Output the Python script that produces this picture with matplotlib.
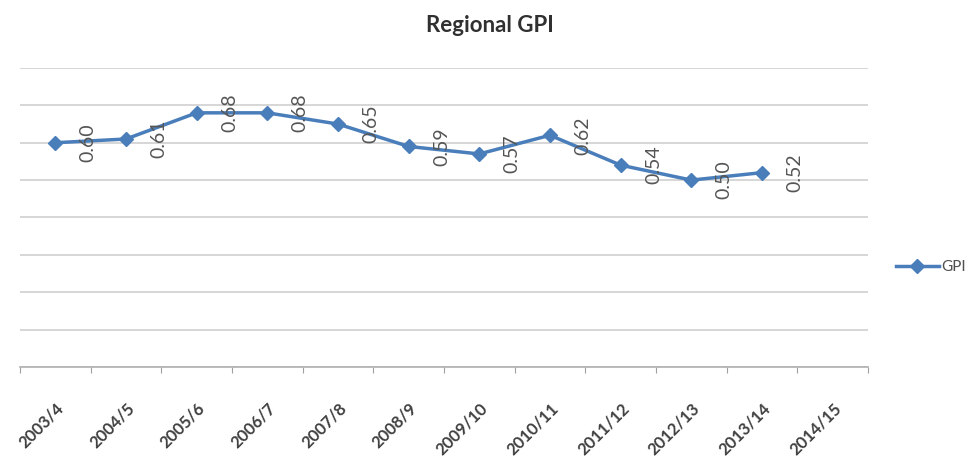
import matplotlib
matplotlib.use("Agg")
import matplotlib.pyplot as plt
import numpy as np

# Kategorien und Werte
jahre = ['2003/4', '2004/5', '2005/6', '2006/7', '2007/8', '2008/9',
         '2009/10', '2010/11', '2011/12', '2012/13', '2013/14', '2014/15']
gpi = [0.60, 0.61, 0.68, 0.68, 0.65, 0.59, 0.57, 0.62, 0.54, 0.50, 0.52]
y_ticks = [0.0, 0.1, 0.2, 0.3, 0.4, 0.5, 0.6, 0.7, 0.8]

farbe = '#4a7ebb'
plt.rcParams['font.family'] = ['Lato', 'DejaVu Sans']

fig = plt.figure(figsize=(9.8, 4.65), dpi=100)
ax = fig.add_axes([0.0204, 0.2108, 0.8653, 0.643])

x = np.arange(len(gpi))
ax.plot(x, gpi, color=farbe, linewidth=2.5, marker='D', markersize=7,
        label='GPI', zorder=3)

# Datenbeschriftungen, um 90 Grad gedreht
for xi, wert in zip(x, gpi):
    ax.annotate('%.2f' % wert, (xi, wert), xytext=(33, 0),
                textcoords='offset pixels', rotation=90,
                ha='center', va='center', fontsize=14, color='#555555')

ax.set_xlim(-0.5, len(jahre) - 0.5)
ax.set_ylim(0, 0.8)
ax.set_yticks(y_ticks)
ax.set_yticklabels([])
ax.tick_params(axis='y', length=0)
ax.grid(axis='y', color='#d0d0d0', linewidth=1.2)
ax.set_axisbelow(True)

# Teilstriche zwischen den Kategorien
ax.set_xticks(np.arange(len(jahre) + 1) - 0.5)
ax.set_xticklabels([])
ax.tick_params(axis='x', which='major', length=4, color='#a0a0a0')
ax.set_xticks(np.arange(len(jahre)), minor=True)
ax.set_xticklabels(jahre, minor=True, rotation=45, ha='right',
                   rotation_mode='anchor', fontsize=12, fontweight='bold',
                   color='#404040')
ax.tick_params(axis='x', which='minor', length=0, pad=24)

for s in ['top', 'left', 'right']:
    ax.spines[s].set_visible(False)
ax.spines['bottom'].set_color('#b0b0b0')
ax.spines['bottom'].set_linewidth(1.2)

fig.text(0.5, 0.945, 'Regional GPI', ha='center', va='center',
         fontsize=16, fontweight='bold', color='#303030')

fig.legend(loc='center left', bbox_to_anchor=(0.911, 0.425), frameon=False,
           fontsize=11, handlelength=2.8, handletextpad=0.2,
           borderaxespad=0, borderpad=0.2, labelcolor='#505050')

fig.savefig('out.png', dpi=100)
